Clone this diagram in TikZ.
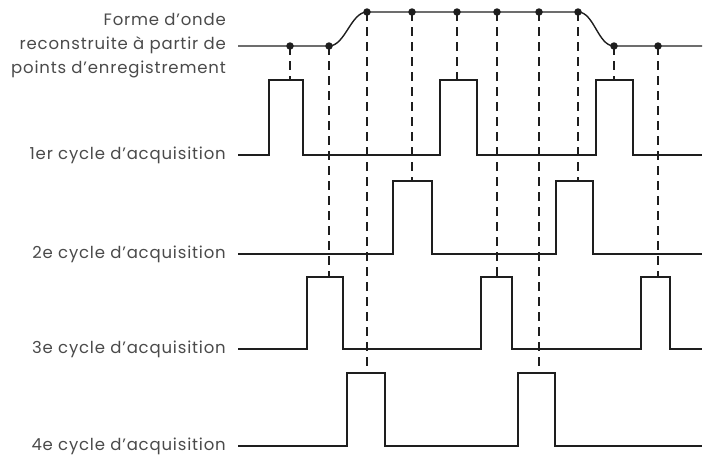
\documentclass[tikz,border=0pt]{standalone}
\usepackage{fontspec}
\setmainfont{Poppins}[LetterSpace=5]
\definecolor{linecol}{HTML}{1E1E1E}
\definecolor{textcol}{HTML}{4A4A4A}
\tikzset{
  sig/.style={line width=1.4pt, draw=linecol, line join=miter},
  probe/.style={line width=1.2pt, draw=linecol, dash pattern=on 9pt off 6pt},
  sample/.style={circle, fill=linecol, inner sep=0pt, minimum size=7.5pt},
  lbl/.style={anchor=east, text=textcol, font=\fontsize{16.5}{24}\selectfont, align=right, inner sep=0pt}
}
\begin{document}
\begin{tikzpicture}[x=1pt,y=-1pt]
\useasboundingbox (0,0) rectangle (706,455);

% labels
\node[lbl] (lw) at (226,46) {Forme d’onde\\reconstruite à partir de\\points d’enregistrement};
\node[lbl] (l1) at (226,155) {1er cycle d’acquisition};
\node[lbl] (l2) at (226,254) {2e cycle d’acquisition};
\node[lbl] (l3) at (226,349) {3e cycle d’acquisition};
\node[lbl] (l4) at (226,446) {4e cycle d’acquisition};

% sample points on the reconstructed waveform
\node[sample] (s1) at (290,46) {};
\node[sample] (s2) at (329,46) {};
\node[sample] (s3) at (367,12) {};
\node[sample] (s4) at (412,12) {};
\node[sample] (s5) at (457,12) {};
\node[sample] (s6) at (497,12) {};
\node[sample] (s7) at (539,12) {};
\node[sample] (s8) at (578,12) {};
\node[sample] (s9) at (614,46) {};
\node[sample] (s10) at (658,46) {};

% where each sample is taken (top of a pulse)
\coordinate (p1) at (290,80);
\coordinate (p2) at (329,277);
\coordinate (p3) at (367,373);
\coordinate (p4) at (412,181);
\coordinate (p5) at (457,80);
\coordinate (p6) at (497,277);
\coordinate (p7) at (539,373);
\coordinate (p8) at (578,181);
\coordinate (p9) at (614,80);
\coordinate (p10) at (658,277);

\foreach \i in {1,...,10} \draw[probe] (s\i.center) -- (p\i);

% reconstructed waveform
\coordinate (w0) at (238,46);
\coordinate (w1) at (702,46);
\draw[sig] (w0) -- (s2.center) .. controls (345,46) and (351,12) .. (s3.center)
  -- (s8.center) .. controls (594,12) and (598,46) .. (s9.center) -- (w1);

% acquisition cycles
\draw[sig] (238,155) -- (269,155) -- (269,80) -- (303,80) -- (303,155)
  -- (440,155) -- (440,80) -- (477,80) -- (477,155)
  -- (596,155) -- (596,80) -- (633,80) -- (633,155) -- (702,155);
\draw[sig] (238,254) -- (393,254) -- (393,181) -- (432,181) -- (432,254)
  -- (556,254) -- (556,181) -- (593,181) -- (593,254) -- (702,254);
\draw[sig] (238,349) -- (307,349) -- (307,277) -- (343,277) -- (343,349)
  -- (481,349) -- (481,277) -- (512,277) -- (512,349)
  -- (641,349) -- (641,277) -- (670,277) -- (670,349) -- (702,349);
\draw[sig] (238,446) -- (347,446) -- (347,373) -- (385,373) -- (385,446)
  -- (518,446) -- (518,373) -- (555,373) -- (555,446) -- (702,446);
\end{tikzpicture}
\end{document}
